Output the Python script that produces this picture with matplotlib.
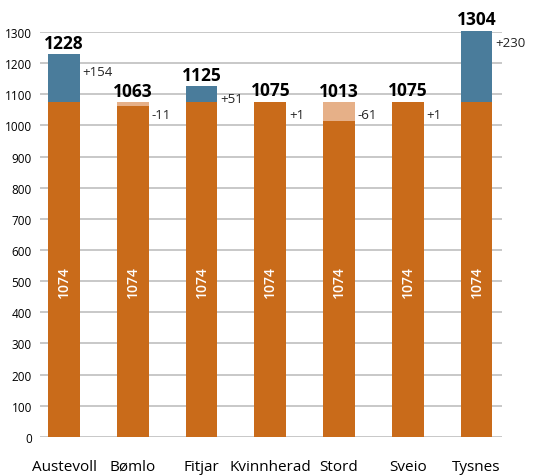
import numpy as np
import matplotlib.pyplot as plt

# --- data ---
kommuner = ['Austevoll', 'Bømlo', 'Fitjar', 'Kvinnherad', 'Stord', 'Sveio', 'Tysnes']
verdi = np.array([1228, 1063, 1125, 1075, 1013, 1075, 1304])
grunnlag = 1074
yticks = np.arange(0, 1400, 100)

c_base = '#C96B1A'
c_up = '#4A7C9B'
c_down = '#E6B088'

plt.rcParams['font.family'] = ['Open Sans', 'DejaVu Sans']

fig = plt.figure(figsize=(5.35, 4.77), dpi=100)
ax = fig.add_axes([0.075, 0.082, 0.863, 0.849])

x = np.arange(len(kommuner))
w = 0.46
diff = verdi - grunnlag

# base part (dark orange), up to min of value and base
ax.bar(x, np.minimum(verdi, grunnlag), width=w, color=c_base, zorder=2)
# increase above base
up = diff > 0
ax.bar(x[up], diff[up], bottom=grunnlag, width=w, color=c_up, zorder=2, clip_on=False)
# decrease below base
dn = diff < 0
ax.bar(x[dn], -diff[dn], bottom=verdi[dn], width=w, color=c_down, zorder=2)

for i in range(len(x)):
    top = max(verdi[i], grunnlag)
    ax.annotate(str(verdi[i]), (x[i], top), xytext=(0, 2), textcoords='offset points',
                ha='center', va='bottom', fontsize=12.5, fontweight='bold', color='black',
                annotation_clip=False)
    lab = f'+{diff[i]}' if diff[i] > 0 else str(diff[i])
    dy = -8 if i == 0 else -4
    ax.annotate(lab, (x[i] + w / 2, top), xytext=(2, dy), textcoords='offset points',
                ha='left', va='top', fontsize=9.5, color='#222222',
                annotation_clip=False)
    ax.text(x[i], 500, str(grunnlag), rotation=90, ha='center', va='center',
            fontsize=10, fontweight='semibold', color='white', zorder=3)

ax.set_ylim(0, 1300)
ax.set_xlim(-0.35, 6.37)
ax.set_yticks(yticks)
ax.set_yticklabels([str(t) for t in yticks], fontsize=8.5)
ax.set_xticks(x)
ax.set_xticklabels(kommuner, fontsize=11)
ax.tick_params(axis='both', length=0)
ax.tick_params(axis='x', pad=16)
ax.tick_params(axis='y', pad=6)
ax.grid(axis='y', color='#C4C4C4', linewidth=1.3, zorder=0)
ax.set_axisbelow(True)
for s in ax.spines.values():
    s.set_visible(False)

fig.savefig('out.png', dpi=100)
